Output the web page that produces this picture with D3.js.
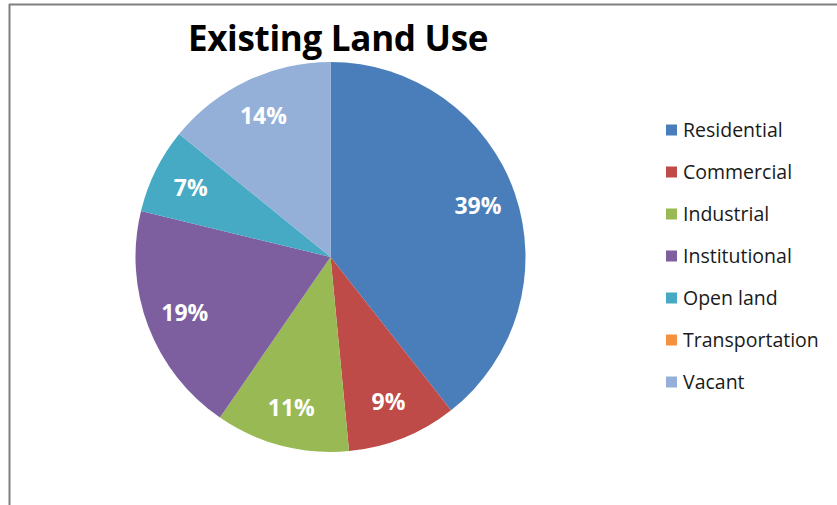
<!DOCTYPE html>
<html>
<head>
<meta charset="utf-8">
<script src="https://cdn.jsdelivr.net/npm/d3@7"></script>
<style>
  html, body { margin: 0; padding: 0; background: #ffffff; }
  svg { display: block; }
  text { font-family: "Open Sans", Lato, "DejaVu Sans", sans-serif; font-variant-ligatures: none; }
</style>
</head>
<body>
<svg id="chart" width="837" height="505"></svg>
<script>
// Land use shares (percent)
const categories = ["Residential", "Commercial", "Industrial", "Institutional", "Open land", "Transportation", "Vacant"];
const shares = [39, 9, 11, 19, 7, 0, 14];
const colors = ["#4a7ebb", "#be4b48", "#98b954", "#7d5fa0", "#46aac5", "#f59240", "#94b0d8"];
const title = "Existing Land Use";

const svg = d3.select("#chart");
const W = 837, H = 505;

// Frame lines along top and left
svg.append("line").attr("x1", 9).attr("x2", W).attr("y1", 4.5).attr("y2", 4.5)
  .attr("stroke", "#7f7f7f").attr("stroke-width", 2);
svg.append("line").attr("x1", 9.5).attr("x2", 9.5).attr("y1", 4).attr("y2", H)
  .attr("stroke", "#7f7f7f").attr("stroke-width", 2);

// Title
svg.append("text").attr("x", 338).attr("y", 51)
  .attr("text-anchor", "middle")
  .attr("font-size", 35).attr("font-weight", "bold").attr("fill", "#000")
  .attr("letter-spacing", -0.3)
  .text(title);

const data = categories.map((c, i) => ({ name: c, value: shares[i], color: colors[i] }));

const cx = 330.5, cy = 257, R = 195;
const pie = d3.pie().value(d => d.value).sort(null);
const arcs = pie(data);
const arc = d3.arc().innerRadius(0).outerRadius(R);
const labelArc = d3.arc().innerRadius(R * 0.80).outerRadius(R * 0.80);

const g = svg.append("g").attr("transform", `translate(${cx},${cy})`);
g.selectAll("path.slice").data(arcs).join("path")
  .attr("class", "slice")
  .attr("d", arc)
  .attr("fill", d => d.data.color);

g.selectAll("text.pct").data(arcs.filter(d => d.data.value > 0)).join("text")
  .attr("class", "pct")
  .attr("transform", d => `translate(${labelArc.centroid(d)})`)
  .attr("text-anchor", "middle")
  .attr("dy", "0.36em")
  .attr("font-size", 23).attr("font-weight", "bold").attr("fill", "#ffffff")
  .text(d => d.data.value + "%");

// Legend
const legend = svg.append("g");
const rowY = d3.scalePoint().domain(categories).range([130, 382]);
const items = legend.selectAll("g.item").data(data).join("g")
  .attr("class", "item")
  .attr("transform", d => `translate(666,${rowY(d.name)})`);
items.append("rect").attr("x", 0).attr("y", -5.5).attr("width", 11).attr("height", 11)
  .attr("fill", d => d.color);
items.append("text").attr("x", 17).attr("dy", "0.36em")
  .attr("font-size", 19.5).attr("fill", "#1a1a1a")
  .text(d => d.name);
</script>
</body>
</html>
